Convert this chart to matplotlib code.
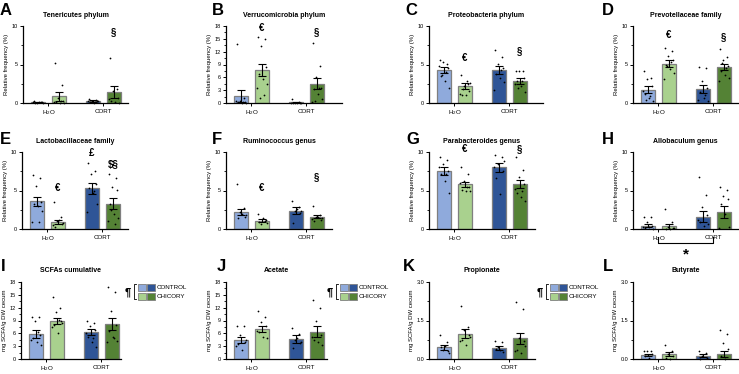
import numpy as np
import matplotlib.pyplot as plt
from matplotlib.patches import Rectangle
from matplotlib.ticker import MultipleLocator

plt.rcParams['font.family'] = ['Liberation Sans', 'DejaVu Sans']
plt.rcParams['mathtext.fontset'] = 'custom'
plt.rcParams['mathtext.rm'] = 'Liberation Sans'
plt.rcParams['mathtext.it'] = 'Liberation Sans:italic'
plt.rcParams['mathtext.bf'] = 'Liberation Sans:bold'

W, H = 739, 374

groups = ['H$_2$O', 'CORT']
legend_labels = ['CONTROL', 'CHICORY']
colors = ['#8faadc', '#a9d18e', '#2f5597', '#548235']
rel = 'Relative frequency (%)'
scfa = 'mg SCFA/g DW cecum'

# order of bars: H2O control, H2O chicory, CORT control, CORT chicory
ten_mean = [0.1, 0.85, 0.25, 1.4]
ten_sem = [0.05, 0.6, 0.08, 0.8]
ten_pts = [[0.2, 0.1, 0.05, 0.1, 0.0, 0.15, 0.05, 0.1],
           [5.2, 2.4, 0.6, 0.3, 0.1, 0.05, 0.0, 0.1, 0.2],
           [0.5, 0.4, 0.3, 0.2, 0.1, 0.0, 0.3, 0.2, 0.1],
           [5.8, 1.8, 1.5, 0.7, 0.3, 0.1, 0.0, 0.5]]

ver_mean = [1.7, 7.7, 0.15, 4.5]
ver_sem = [1.4, 1.5, 0.1, 1.3]
ver_pts = [[13.7, 1.1, 0.5, 0.3, 0.2, 0.1, 0.0, 0.4, 0.2],
           [15.4, 15.0, 13.4, 8.3, 6.7, 5.6, 4.4, 3.4, 1.9, 1.1],
           [0.9, 0.2, 0.1, 0.0, 0.1, 0.05, 0.0, 0.1],
           [14.1, 8.7, 6.1, 3.6, 3.2, 2.1, 0.9, 0.2, 3.4, 0.5]]

pro_mean = [4.3, 2.25, 4.3, 2.85]
pro_sem = [0.35, 0.4, 0.5, 0.35]
pro_pts = [[5.6, 5.1, 5.3, 4.5, 3.5, 2.9, 2.0, 4.8, 4.0, 3.6],
           [3.7, 2.5, 2.2, 1.6, 1.1, 1.1, 2.6, 1.2, 2.9, 1.8],
           [6.9, 6.0, 5.1, 4.6, 3.8, 3.3, 2.7, 1.7, 4.3],
           [4.2, 4.2, 4.1, 3.3, 2.8, 2.2, 1.4, 2.5, 2.9, 2.0]]

pre_mean = [1.7, 5.1, 1.8, 4.7]
pre_sem = [0.45, 0.45, 0.55, 0.4]
pre_pts = [[4.1, 3.3, 3.1, 2.2, 1.2, 0.6, 0.3, 1.5, 0.9, 0.4],
           [7.2, 6.7, 6.1, 5.6, 5.0, 4.4, 3.9, 3.1, 5.3, 4.8],
           [4.7, 4.6, 2.9, 1.9, 1.4, 0.6, 0.3, 0.4, 1.0],
           [7.0, 6.0, 5.6, 4.8, 4.2, 3.7, 3.2, 2.9, 4.5, 5.2]]

lac_mean = [3.6, 0.9, 5.3, 3.3]
lac_sem = [0.6, 0.3, 0.7, 0.7]
lac_pts = [[7.0, 6.6, 5.6, 3.5, 3.2, 3.0, 2.4, 0.9, 0.9],
           [3.5, 1.5, 1.1, 0.6, 0.3, 1.2, 0.8, 0.5],
           [8.6, 7.5, 7.1, 5.8, 5.3, 4.7, 3.2, 2.2, 5.0],
           [7.1, 6.6, 5.5, 5.1, 3.2, 1.9, 1.4, 1.0, 0.6, 2.5]]

rum_mean = [2.2, 1.1, 2.4, 1.6]
rum_sem = [0.4, 0.2, 0.4, 0.2]
rum_pts = [[5.8, 2.7, 2.2, 1.6, 1.4, 2.0, 1.8],
           [1.9, 1.0, 0.6, 1.2, 0.9, 1.4, 0.8],
           [3.7, 2.9, 2.3, 2.1, 0.8, 2.6, 2.4],
           [3.0, 1.8, 1.5, 1.2, 1.0, 1.6, 1.4, 1.3]]

par_mean = [7.5, 5.8, 8.0, 5.8]
par_sem = [0.5, 0.35, 0.55, 0.5]
par_pts = [[9.3, 9.0, 8.4, 7.5, 7.1, 6.2, 4.7, 8.0, 7.2],
           [8.0, 7.1, 6.2, 5.5, 5.1, 4.9, 5.0, 6.0, 5.4],
           [9.6, 9.3, 8.4, 7.5, 6.6, 4.5, 8.8, 8.0],
           [9.3, 7.7, 6.8, 5.8, 4.7, 4.2, 3.7, 5.2, 4.9]]

all_mean = [0.4, 0.35, 1.6, 2.2]
all_sem = [0.2, 0.3, 0.75, 0.75]
all_pts = [[1.5, 1.5, 0.9, 0.4, 0.1, 0.2, 0.0, 0.3],
           [2.6, 0.9, 0.2, 0.1, 0.0, 0.0, 0.1],
           [6.7, 4.4, 2.9, 1.8, 0.9, 0.4, 0.6, 1.2],
           [5.4, 5.1, 4.3, 3.9, 3.2, 1.9, 0.2, 0.1]]

cum_mean = [5.8, 8.9, 6.25, 8.1]
cum_sem = [0.9, 0.8, 0.75, 1.4]
cum_pts = [[9.9, 9.9, 8.8, 5.6, 5.0, 3.9, 3.3, 4.5, 6.2],
           [14.6, 12.0, 11.1, 8.8, 8.0, 6.0, 8.3, 7.5, 9.2],
           [9.0, 8.4, 7.6, 6.8, 5.2, 3.9, 2.9, 6.0, 4.8],
           [16.8, 15.6, 11.2, 8.0, 6.6, 5.2, 4.2, 3.9, 4.8]]

ace_mean = [4.45, 7.0, 4.7, 6.4]
ace_sem = [0.7, 0.7, 0.85, 1.3]
ace_pts = [[7.8, 7.6, 5.6, 3.9, 3.4, 2.1, 4.5, 3.0],
           [11.3, 9.9, 8.75, 7.6, 6.4, 5.2, 5.0, 6.6],
           [7.2, 5.8, 4.45, 3.7, 2.5, 5.0, 4.0],
           [13.7, 12.0, 8.9, 5.6, 4.45, 3.9, 3.3, 5.2]]

pro2_mean = [0.46, 0.98, 0.44, 0.8]
pro2_sem = [0.1, 0.18, 0.08, 0.2]
pro2_pts = [[0.94, 0.68, 0.35, 0.3, 0.45, 0.5, 0.25],
            [2.07, 1.26, 1.13, 0.94, 0.74, 0.55, 0.85, 0.7],
            [0.70, 0.65, 0.48, 0.26, 0.4, 0.35],
            [2.24, 1.94, 0.81, 0.7, 0.35, 0.22, 0.5, 0.3]]

but_mean = [0.16, 0.2, 0.13, 0.2]
but_sem = [0.04, 0.09, 0.05, 0.11]
but_pts = [[0.31, 0.31, 0.31, 0.2, 0.1, 0.05],
           [0.55, 0.31, 0.2, 0.1, 0.05, 0.0],
           [0.33, 0.22, 0.1, 0.05, 0.0],
           [1.13, 0.96, 0.61, 0.4, 0.1, 0.0]]

panels = [
    # letter, title, ylabel, ymax, step, mean, sem, pts, symbols (bar, y, text)
    ('A', 'Tenericutes phylum', rel, 10, 5, ten_mean, ten_sem, ten_pts, [(3, 9.2, '§')]),
    ('B', 'Verrucomicrobia phylum', rel, 18, 3, ver_mean, ver_sem, ver_pts, [(1, 17.6, '€'), (3, 16.6, '§')]),
    ('C', 'Proteobacteria phylum', rel, 10, 5, pro_mean, pro_sem, pro_pts, [(1, 5.8, '€'), (3, 6.7, '§')]),
    ('D', 'Prevotellaceae family', rel, 10, 5, pre_mean, pre_sem, pre_pts, [(1, 8.8, '€'), (3, 8.6, '§')]),
    ('E', 'Lactobacillaceae family', rel, 10, 5, lac_mean, lac_sem, lac_pts, [(1, 5.3, '€'), (2, 9.9, '£'), (3, 8.3, '$§')]),
    ('F', 'Ruminococcus genus', rel, 10, 5, rum_mean, rum_sem, rum_pts, [(1, 5.3, '€'), (3, 6.8, '§')]),
    ('G', 'Parabacteroides genus', rel, 10, 5, par_mean, par_sem, par_pts, [(1, 10.4, '€'), (3, 10.4, '§')]),
    ('H', 'Allobaculum genus', rel, 10, 5, all_mean, all_sem, all_pts, []),
    ('I', 'SCFAs cumulative', scfa, 18, 3, cum_mean, cum_sem, cum_pts, []),
    ('J', 'Acetate', scfa, 18, 3, ace_mean, ace_sem, ace_pts, []),
    ('K', 'Propionate', scfa, 3.0, 1.5, pro2_mean, pro2_sem, pro2_pts, []),
    ('L', 'Butyrate', scfa, 3.0, 1.5, but_mean, but_sem, but_pts, []),
]

# layout in pixels
row_top = [26, 152, 282]
row_title = [15, 141, 270]
ax_h = 77
ax_x = [(23, 128), (226, 342), (429, 543), (633, 738),
        (22, 128), (226, 332), (429, 535), (633, 738),
        (21, 121), (226, 327), (429, 535), (633, 738)]
letter_xy = [(0, 3), (212, 3), (405, 3), (602, 3),
             (0, 132), (212, 132), (406, 132), (602, 132),
             (1, 259), (217, 259), (403, 259), (603, 259)]

bar_x = np.array([0, 1, 2.62, 3.62])
tick_x = [0.5, 3.12]
unit = 21.0
jit = [-0.18, 0.14, -0.05, 0.2, -0.12, 0.06, 0.22, -0.22, 0.1, -0.08]

fig = plt.figure(figsize=(W / 100, H / 100), dpi=100)
ov = fig.add_axes([0, 0, 1, 1])
ov.set_xlim(0, W)
ov.set_ylim(H, 0)
ov.axis('off')

for i, (let, title, ylab, ymax, step, mean, sem, pts, syms) in enumerate(panels):
    r = i // 4
    x0, x1 = ax_x[i]
    top = row_top[r]
    ax = fig.add_axes([x0 / W, 1 - (top + ax_h) / H, (x1 - x0) / W, ax_h / H])
    ax.bar(bar_x, mean, width=0.67, color=colors, edgecolor='#7f7f7f', linewidth=0.9, zorder=2)
    ax.errorbar(bar_x, mean, yerr=sem, fmt='none', ecolor='black', elinewidth=0.8,
                capsize=2.6, capthick=0.8, zorder=3)
    for b, vals in enumerate(pts):
        xs = [bar_x[b] + jit[k % len(jit)] for k in range(len(vals))]
        ax.scatter(xs, vals, s=1.6, color='black', zorder=4, clip_on=False, linewidths=0)
    for b, y, t in syms:
        ax.text(bar_x[b], y, t, ha='center', va='center', fontsize=7, fontweight='bold')
    ax.set_xlim(-0.71, -0.71 + (x1 - x0) / unit)
    ax.set_ylim(0, ymax)
    ax.yaxis.set_major_locator(MultipleLocator(step))
    ax.yaxis.set_minor_locator(MultipleLocator(step / 2 if step == 5 else step / 2))
    if step == 3:
        ax.set_yticks(np.arange(0, ymax + 0.1, step))
        ax.yaxis.set_minor_locator(MultipleLocator(1.5))
        ax.set_yticklabels([str(int(v)) for v in np.arange(0, ymax + 0.1, step)])
    elif step == 1.5:
        ax.set_yticks([0, 1.5, 3.0])
        ax.set_yticklabels(['0.0', '1.5', '3.0'])
        ax.yaxis.set_minor_locator(MultipleLocator(0.75))
    ax.set_xticks(tick_x)
    ax.set_xticklabels(groups, fontsize=4.5)
    ax.tick_params(axis='y', labelsize=4, length=2.5, width=0.7, pad=1)
    ax.tick_params(axis='y', which='minor', length=1.5, width=0.6)
    ax.tick_params(axis='x', length=2.5, width=0.7, pad=1.5)
    for s in ['top', 'right']:
        ax.spines[s].set_visible(False)
    for s in ['left', 'bottom']:
        ax.spines[s].set_linewidth(0.9)
    ax.set_ylabel(ylab, fontsize=4.3, labelpad=2)
    ax.patch.set_alpha(0)

    ov.text((x0 + x1) / 2, row_title[r], title, ha='center', va='center', fontsize=5, fontweight='bold')
    lx, ly = letter_xy[i]
    ov.text(lx, ly, let, ha='left', va='top', fontsize=12, fontweight='bold')

    if let == 'H':
        tr = ax.get_xaxis_transform()
        ax.plot([tick_x[0], tick_x[0], tick_x[1], tick_x[1]], [-0.11, -0.18, -0.18, -0.11],
                color='black', lw=0.8, transform=tr, clip_on=False)
        ax.text(sum(tick_x) / 2, -0.33, '*', ha='center', va='center', fontsize=11,
                fontweight='bold', transform=tr)

# legends next to I, J, K
for lx in [128, 330, 540]:
    ov.text(lx, 292, '¶', ha='center', va='center', fontsize=8, fontweight='bold')
    ov.plot([lx + 8, lx + 6, lx + 6, lx + 8], [284, 284, 299, 299], color='black', lw=0.6)
    for j, (yy, lab) in enumerate([(284, legend_labels[0]), (293, legend_labels[1])]):
        for k in range(2):
            ov.add_patch(Rectangle((lx + 10 + k * 9, yy), 8, 6.5, facecolor=colors[j + 2 * k],
                                   edgecolor='#7f7f7f', lw=0.6))
        ov.text(lx + 29, yy + 3.4, lab, ha='left', va='center', fontsize=4.5)

fig.savefig('out.png', dpi=100)
